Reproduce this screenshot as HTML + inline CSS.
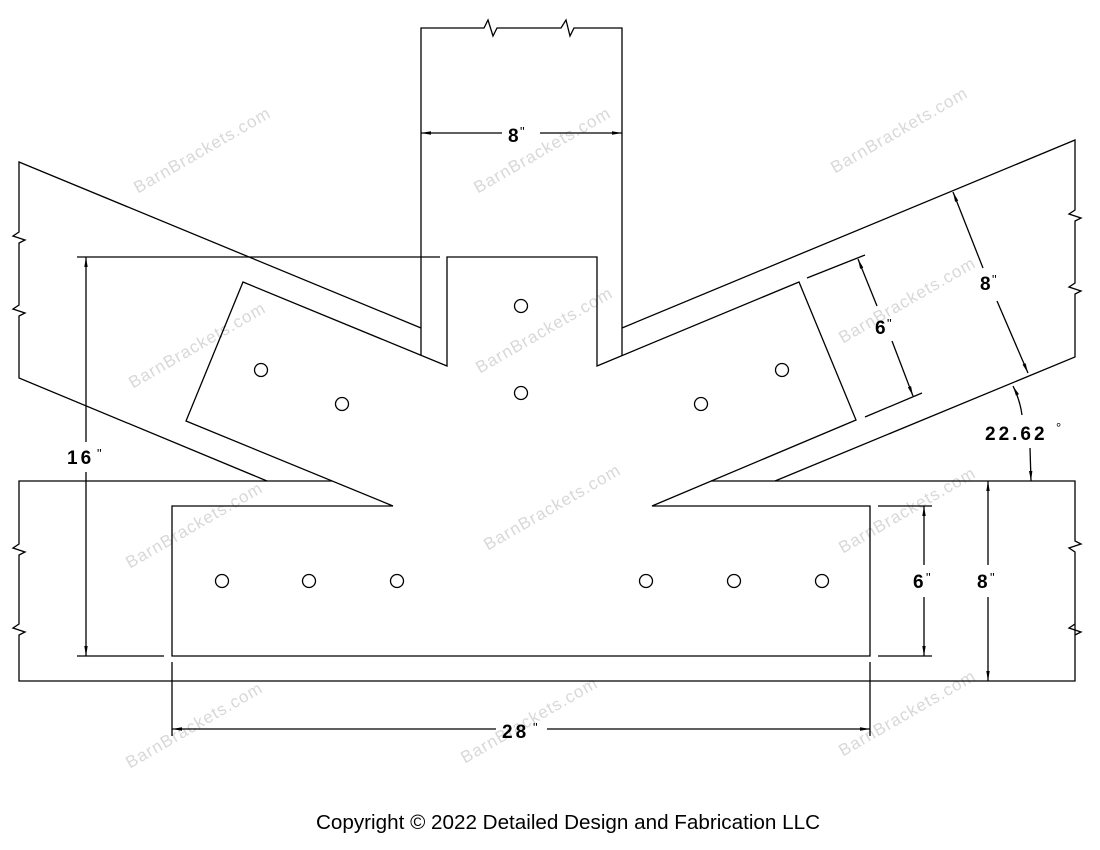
<!DOCTYPE html>
<html><head><meta charset="utf-8"><style>
html,body{margin:0;padding:0;background:#fff}
svg{display:block}
.l{stroke:#000;stroke-width:1.3;fill:none}
.t{font-family:"Liberation Sans",sans-serif;font-weight:bold;font-size:19px;fill:#000}
.q{font-family:"Liberation Sans",sans-serif;font-weight:normal;font-size:13px;fill:#000}
.w{font-family:"Liberation Sans",sans-serif;font-size:17px;fill:#d8d8d8;letter-spacing:1px}
</style></head><body>
<svg width="1100" height="850" viewBox="0 0 1100 850" xmlns="http://www.w3.org/2000/svg">
<defs>
<marker id="a" viewBox="0 0 10 4" refX="10" refY="2" markerWidth="10" markerHeight="4" markerUnits="userSpaceOnUse" orient="auto-start-reverse"><path d="M10,2 L0,0.3 L0,3.7 Z" fill="#000"/></marker>
</defs>
<g class="w">
<text transform="translate(205,155) rotate(-30)" text-anchor="middle">BarnBrackets.com</text>
<text transform="translate(545,155) rotate(-30)" text-anchor="middle">BarnBrackets.com</text>
<text transform="translate(902,135) rotate(-30)" text-anchor="middle">BarnBrackets.com</text>
<text transform="translate(200,350) rotate(-30)" text-anchor="middle">BarnBrackets.com</text>
<text transform="translate(547,335) rotate(-30)" text-anchor="middle">BarnBrackets.com</text>
<text transform="translate(910,305) rotate(-30)" text-anchor="middle">BarnBrackets.com</text>
<text transform="translate(197,530) rotate(-30)" text-anchor="middle">BarnBrackets.com</text>
<text transform="translate(555,512) rotate(-30)" text-anchor="middle">BarnBrackets.com</text>
<text transform="translate(910,515) rotate(-30)" text-anchor="middle">BarnBrackets.com</text>
<text transform="translate(197,730) rotate(-30)" text-anchor="middle">BarnBrackets.com</text>
<text transform="translate(532,725) rotate(-30)" text-anchor="middle">BarnBrackets.com</text>
<text transform="translate(910,718) rotate(-30)" text-anchor="middle">BarnBrackets.com</text>
</g>
<g class="l">
<polyline points="421,356 421,28 484,28 488,20 493,36 497,28 561,28 566,20 570,36 574,28 622,28 622,356"/>
<polyline points="421,328 19,162 19,232 13,236 25,240 19,243 19,305 13,309 25,313 19,316 19,378 267,481"/>
<polyline points="622,328 1075,140 1075,210 1069,214 1081,218 1075,221 1075,283 1069,287 1081,291 1075,294 1075,357 775,481"/>
<polyline points="332,481 19,481 19,544 13,548 25,552 19,555 19,624 13,628 25,632 19,635 19,681 1075,681 1075,624 1069,628 1081,632 1075,635 1075,552 1069,548 1081,544 1075,541 1075,481 711,481"/>
<polygon points="447,366 447,257 597,257 597,366 799,282 856,420 652,506 870,506 870,656 172,656 172,506 393,506 186,421 243,282"/>
<circle cx="521" cy="306" r="6.5"/><circle cx="521" cy="393" r="6.5"/>
<circle cx="261" cy="370" r="6.5"/><circle cx="342" cy="404" r="6.5"/>
<circle cx="782" cy="370" r="6.5"/><circle cx="701" cy="404" r="6.5"/>
<circle cx="222" cy="581" r="6.5"/><circle cx="309" cy="581" r="6.5"/><circle cx="397" cy="581" r="6.5"/>
<circle cx="646" cy="581" r="6.5"/><circle cx="734" cy="581" r="6.5"/><circle cx="822" cy="581" r="6.5"/>
<line x1="77" y1="257" x2="440" y2="257"/>
<line x1="77" y1="656" x2="164" y2="656"/>
<line x1="172" y1="662" x2="172" y2="736"/>
<line x1="870" y1="662" x2="870" y2="736"/>
<line x1="878" y1="506" x2="932" y2="506"/>
<line x1="878" y1="656" x2="932" y2="656"/>
<line x1="807" y1="278" x2="865" y2="255"/>
<line x1="865" y1="417" x2="922" y2="393"/>
<line x1="421" y1="133" x2="502" y2="133" marker-start="url(#a)"/>
<line x1="540" y1="133" x2="622" y2="133" marker-end="url(#a)"/>
<line x1="86" y1="257" x2="86" y2="442" marker-start="url(#a)"/>
<line x1="86" y1="472" x2="86" y2="656" marker-end="url(#a)"/>
<line x1="172" y1="729" x2="496" y2="729" marker-start="url(#a)"/>
<line x1="547" y1="729" x2="870" y2="729" marker-end="url(#a)"/>
<line x1="924" y1="506" x2="924" y2="565" marker-start="url(#a)"/>
<line x1="924" y1="597" x2="924" y2="656" marker-end="url(#a)"/>
<line x1="988" y1="481" x2="988" y2="565" marker-start="url(#a)"/>
<line x1="988" y1="597" x2="988" y2="681" marker-end="url(#a)"/>
<line x1="858" y1="259" x2="877" y2="306" marker-start="url(#a)"/>
<line x1="892" y1="341" x2="913" y2="396" marker-end="url(#a)"/>
<line x1="953" y1="192" x2="983" y2="268" marker-start="url(#a)"/>
<line x1="997" y1="301" x2="1028" y2="373" marker-end="url(#a)"/>
<path d="M1013,386 Q1020,400 1022,415" marker-start="url(#a)"/>
<line x1="1030" y1="448" x2="1031" y2="481" marker-end="url(#a)"/>
</g>
<g class="t">
<text x="508" y="142">8</text><text class="q" x="520" y="136">"</text>
<text x="67" y="464" letter-spacing="3">16</text><text class="q" x="97" y="458">"</text>
<text x="502" y="738" letter-spacing="3">28</text><text class="q" x="533" y="732">"</text>
<text x="913" y="588">6</text><text class="q" x="926" y="582">"</text>
<text x="977" y="588">8</text><text class="q" x="990" y="582">"</text>
<text x="875" y="334">6</text><text class="q" x="887" y="328">"</text>
<text x="980" y="290">8</text><text class="q" x="992" y="284">"</text>
<text x="985" y="440" letter-spacing="3">22.62</text><text class="q" x="1056" y="432">°</text>
</g>
<text x="316" y="829" textLength="504" lengthAdjust="spacingAndGlyphs" style="font-family:'Liberation Sans',sans-serif;font-size:20px;fill:#000">Copyright © 2022 Detailed Design and Fabrication LLC</text>
</svg>
</body></html>
